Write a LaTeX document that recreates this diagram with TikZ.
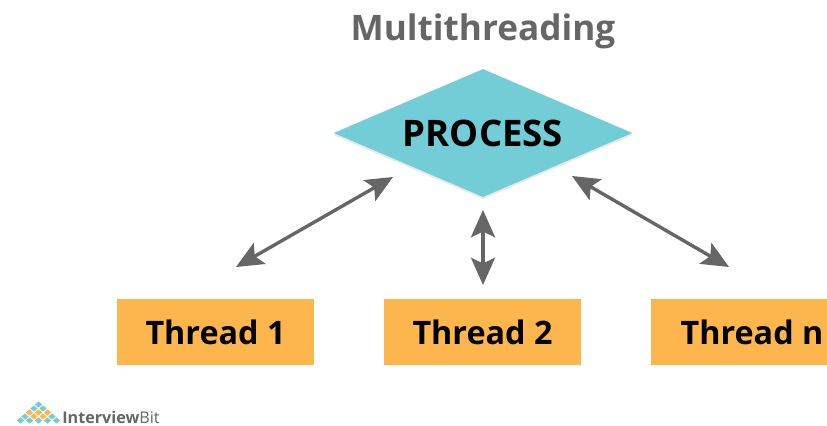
\documentclass[tikz,border=0pt]{standalone}
\usepackage{fontspec}
\setmainfont{Open Sans}
\usepackage{xcolor}
\usepackage{tikz}
\usetikzlibrary{arrows.meta,shapes.geometric,shadows}

\definecolor{procblue}{HTML}{72CDD6}
\definecolor{threadorange}{HTML}{FDB64D}
\definecolor{arrowgray}{HTML}{666666}

\begin{document}
\begin{tikzpicture}[x=0.025cm,y=-0.025cm,
link/.style={{Stealth[length=0.68cm,width=0.6cm,inset=0.14cm]}-{Stealth[length=0.68cm,width=0.6cm,inset=0.14cm]},line width=0.85mm,draw=arrowgray}]
\tikzstyle{thread}=[fill=threadorange,minimum width=4.93cm,minimum height=1.65cm,inner sep=0pt,text=black,font=\fontsize{23}{28}\bfseries]
\tikzstyle{cell}=[diamond,aspect=1.15,minimum width=0.19cm,minimum height=0.16cm,inner sep=0pt]

\useasboundingbox (0,0) rectangle (827,426);

\node (title) at (483,31) {\fontsize{25}{32}\bfseries\color{arrowgray}Multithreading};

\node[diamond,aspect=2.34,fill=procblue,minimum width=7.47cm,minimum height=3.2cm,inner sep=0pt,
drop shadow={opacity=.18,shadow xshift=0pt,shadow yshift=-1.5pt},
font=\fontsize{26}{30}\bfseries] (process) at (483,133) {\raisebox{-1pt}{PROCESS}};

\node[thread] (t1) at (215.5,332) {Thread 1};
\node[thread] (t2) at (482.5,332) {Thread 2};
\node[thread,minimum width=5.05cm] (t3) at (752,332) {Thread n};

% free ends of the arrows
\coordinate (a1) at (393,177);
\coordinate (b1) at (236,267);
\coordinate (a2) at (483,210);
\coordinate (b2) at (483,285);
\coordinate (a3) at (572,176);
\coordinate (b3) at (729,267);

\draw[link] (a1) -- (b1);
\draw[link] (a2) -- (b2);
\draw[link] (a3) -- (b3);

% logo
\foreach \i/\j/\c in {0/0/procblue,
-1/1/procblue,1/1/procblue,
-2/2/threadorange,0/2/threadorange,2/2/threadorange,
-3/3/procblue,-1/3/threadorange,1/3/threadorange,3/3/procblue,
-4/4/procblue,-2/4/procblue,0/4/procblue,2/4/procblue,4/4/procblue}
\node[cell,fill=\c] (c\i\j) at (38.5+\i*4.5,404.5+\j*4) {};

\node[anchor=west,inner sep=0pt,text=arrowgray,font=\fontsize{11.5}{14}\selectfont] (logo) at (62,417) {\textbf{Interview}Bit};
\end{tikzpicture}
\end{document}
